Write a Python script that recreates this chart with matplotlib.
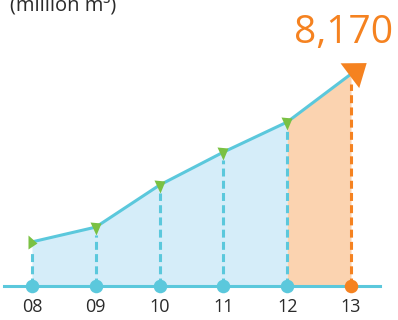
import numpy as np
import matplotlib
matplotlib.use("Agg")
import matplotlib.pyplot as plt
from matplotlib.path import Path
from matplotlib.markers import MarkerStyle

# ── data ──────────────────────────────────────────────────────────────────────
years  = ["08", "09", "10", "11", "12", "13"]
values = [1700, 2270, 3890, 5160, 6320, 8170]   # million m3
unit   = "(million m\u00b3)"
last_label = "8,170"

CYAN   = "#5bc8dc"
BLUE   = "#d5edf9"
PEACH  = "#fbd3b0"
ORANGE = "#f58220"
GREEN  = "#7ac143"
TEXT   = "#2a2a2a"

W, H = 398, 320
X0, DX = 32, 63.8           # pixel position of first year, step
Y0, SY = 286, 38.54         # baseline pixel, value per pixel

plt.rcParams["font.family"] = ["Open Sans", "DejaVu Sans"]
fig = plt.figure(figsize=(W / 100, H / 100), dpi=100)
ax = fig.add_axes([0, 0, 1, 1])
ax.set_xlim(-X0 / DX, (W - X0) / DX)
ax.set_ylim(-(H - Y0) * SY, Y0 * SY)
ax.axis("off")

x = np.arange(len(years))
v = np.array(values, dtype=float)

# fills
ax.fill_between(x[:5], 0, v[:5], color=BLUE, lw=0, zorder=1)
ax.fill_between(x[4:], 0, v[4:], color=PEACH, lw=0, zorder=1)

# dashed drop lines
ax.vlines(x[:5], 0, v[:5] - 300, colors=CYAN, lw=2.2,
          linestyles=(0, (2.6, 1.4)), zorder=2)
ax.vlines(x[5:], 0, v[5:] - 400, colors=ORANGE, lw=2.2,
          linestyles=(0, (2.6, 1.4)), zorder=2)

# baseline
ax.axhline(0, xmin=4 / W, xmax=380 / W, color=CYAN, lw=2.2, zorder=3)

# main line
ax.plot(x, v, color=CYAN, lw=2.2, zorder=3, solid_capstyle="butt")

# baseline dots
ax.scatter(x[:5], np.zeros(5), s=95, color=CYAN, zorder=4, lw=0)
ax.scatter(x[5:], [0], s=95, color=ORANGE, zorder=4, lw=0)

# green pointer triangles (first one points right, the rest point down)
def tri_marker(verts):
    verts = np.asarray(verts, dtype=float)
    m = np.abs(verts).max()
    return MarkerStyle(Path(verts / (2 * m))), 2 * m * 0.72

first_tri = [[-4, 7], [-4, -7], [5, -1]]
down_tri  = [[-6, 5], [5, 4], [0, -8]]
for i in range(5):
    mk, ms = tri_marker(first_tri if i == 0 else down_tri)
    ax.plot(x[i], v[i], marker=mk, ms=ms, color=GREEN, mew=0, zorder=5)

# orange arrowhead on the last point, aligned with the last segment
fig.canvas.draw()
pix = ax.transData.transform(np.column_stack([x, v]))
d = pix[5] - pix[4]
a = np.arctan2(d[1], d[0])
head = np.array([[-2.0, -15.5], [19.0, 0.0], [-2.0, 15.5]])
c, s = np.cos(a), np.sin(a)
rot = head @ np.array([[c, s], [-s, c]])
mk, ms = tri_marker(rot)
ax.plot(x[5], v[5], marker=mk, ms=ms, color=ORANGE, mew=0, zorder=5)

# year labels
for xi, lab in zip(x, years):
    ax.text(xi, -21 * SY, lab, ha="center", va="center", fontsize=13,
            color=TEXT)

# headline value and unit (the unit sits partly above the top edge, as in the source)
ax.text(393 / W, 1 - 43 / H, last_label, transform=ax.transAxes,
        ha="right", va="baseline", fontsize=28, color=ORANGE)
fig.text(10 / W, 1 - 11 / H, unit, ha="left", va="baseline", fontsize=14.5,
         color=TEXT)

fig.savefig("out.png", dpi=100)
